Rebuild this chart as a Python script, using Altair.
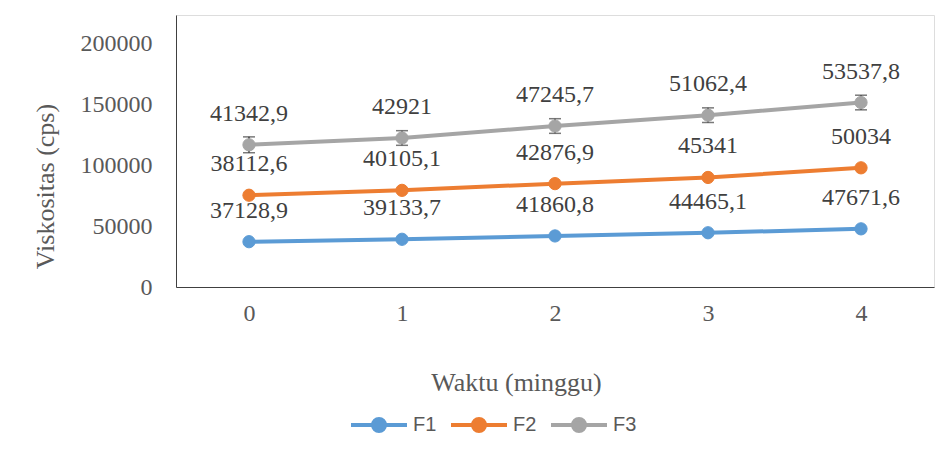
import altair as alt
import pandas as pd

weeks = [0, 1, 2, 3, 4]
series_names = ["F1", "F2", "F3"]
F1 = [37128.9, 39133.7, 41860.8, 44465.1, 47671.6]
F2 = [38112.6, 40105.1, 42876.9, 45341, 50034]
F3 = [41342.9, 42921, 47245.7, 51062.4, 53537.8]
F3_err = [6500, 6000, 6000, 6000, 6000]
colors = ["#5B9BD5", "#ED7D31", "#A5A5A5"]
y_ticks = [0, 50000, 100000, 150000, 200000]

rows = []
cum = [0.0] * len(weeks)
for name, vals in zip(series_names, [F1, F2, F3]):
    for i, w in enumerate(weeks):
        cum[i] += vals[i]
        err = F3_err[i] if name == "F3" else 0
        rows.append({
            "series": name,
            "week": w,
            "value": vals[i],
            "cum": cum[i],
            "lo": cum[i] - err,
            "hi": cum[i] + err,
            "label": f"{vals[i]:g}".replace(".", ","),
        })
df = pd.DataFrame(rows)

SERIF = "Liberation Serif"
SANS = "Liberation Sans"

legend_path = ("M-1,0H1M0.214,0A0.214,0.214,0,1,1,-0.214,0"
               "A0.214,0.214,0,1,1,0.214,0Z")
legend = alt.Legend(
    title=None, orient="none", direction="horizontal",
    legendX=173, legendY=380,
    symbolType=legend_path, symbolSize=3136, symbolStrokeWidth=4,
    labelFont=SANS, labelFontSize=20, labelColor="#595959",
    labelOffset=4, columnPadding=6, symbolOpacity=1,
)
cscale = alt.Scale(domain=series_names, range=colors)

x_enc = alt.X("week:O", scale=alt.Scale(type="point", padding=0.477),
              axis=alt.Axis(title="Waktu (minggu)", labelAngle=0,
                            labelFont=SERIF, labelFontSize=24, labelColor="#595959",
                            labelPadding=14, ticks=False, domainColor="#404040",
                            domainWidth=1, titleFont=SERIF, titleFontSize=26,
                            titleFontWeight="normal", titleColor="#595959",
                            titleX=340, titleY=95, titleBaseline="middle"))
y_scale = alt.Scale(domain=[0, 223000], nice=False)
y_enc = alt.Y("cum:Q", scale=y_scale,
              axis=alt.Axis(title="Viskositas (cps)", values=y_ticks, grid=False,
                            format="d",
                            labelFont=SERIF, labelFontSize=24, labelColor="#595959",
                            labelPadding=24, ticks=False, domainColor="#404040",
                            domainWidth=1, titleFont=SERIF, titleFontSize=26,
                            titleFontWeight="normal", titleColor="#595959",
                            titleX=-131, titleY=171, titleBaseline="middle"))

base = alt.Chart(df)

lines = base.mark_line(strokeWidth=4).encode(
    x=x_enc, y=y_enc,
    stroke=alt.Stroke("series:N", scale=cscale, legend=legend),
    detail="series:N",
)

f3 = base.transform_filter(alt.datum.series == "F3")
err_rule = f3.mark_rule(color="#404040", strokeWidth=1.5).encode(
    x="week:O", y=alt.Y("lo:Q", scale=y_scale), y2="hi:Q")
cap_lo = f3.mark_tick(color="#404040", thickness=1.5, size=12).encode(
    x="week:O", y=alt.Y("lo:Q", scale=y_scale))
cap_hi = f3.mark_tick(color="#404040", thickness=1.5, size=12).encode(
    x="week:O", y=alt.Y("hi:Q", scale=y_scale))

points = base.mark_point(size=150, opacity=1, strokeWidth=1).encode(
    x="week:O", y=alt.Y("cum:Q", scale=y_scale),
    fill=alt.Fill("series:N", scale=cscale, legend=legend),
    stroke=alt.Stroke("series:N", scale=cscale, legend=legend),
)

labels = base.mark_text(dy=-31, font=SERIF, fontSize=24, color="#404040").encode(
    x="week:O", y=alt.Y("cum:Q", scale=y_scale), text="label:N")

chart = alt.layer(lines, err_rule, cap_lo, cap_hi, points, labels).properties(
    width=758, height=272,
    autosize=alt.AutoSizeParams(type="none"),
    padding={"left": 168, "top": 7, "right": 10, "bottom": 158},
).configure_view(stroke=None).configure(background="white")

chart.save("out.html", embed_options={"renderer": "svg", "actions": False})
